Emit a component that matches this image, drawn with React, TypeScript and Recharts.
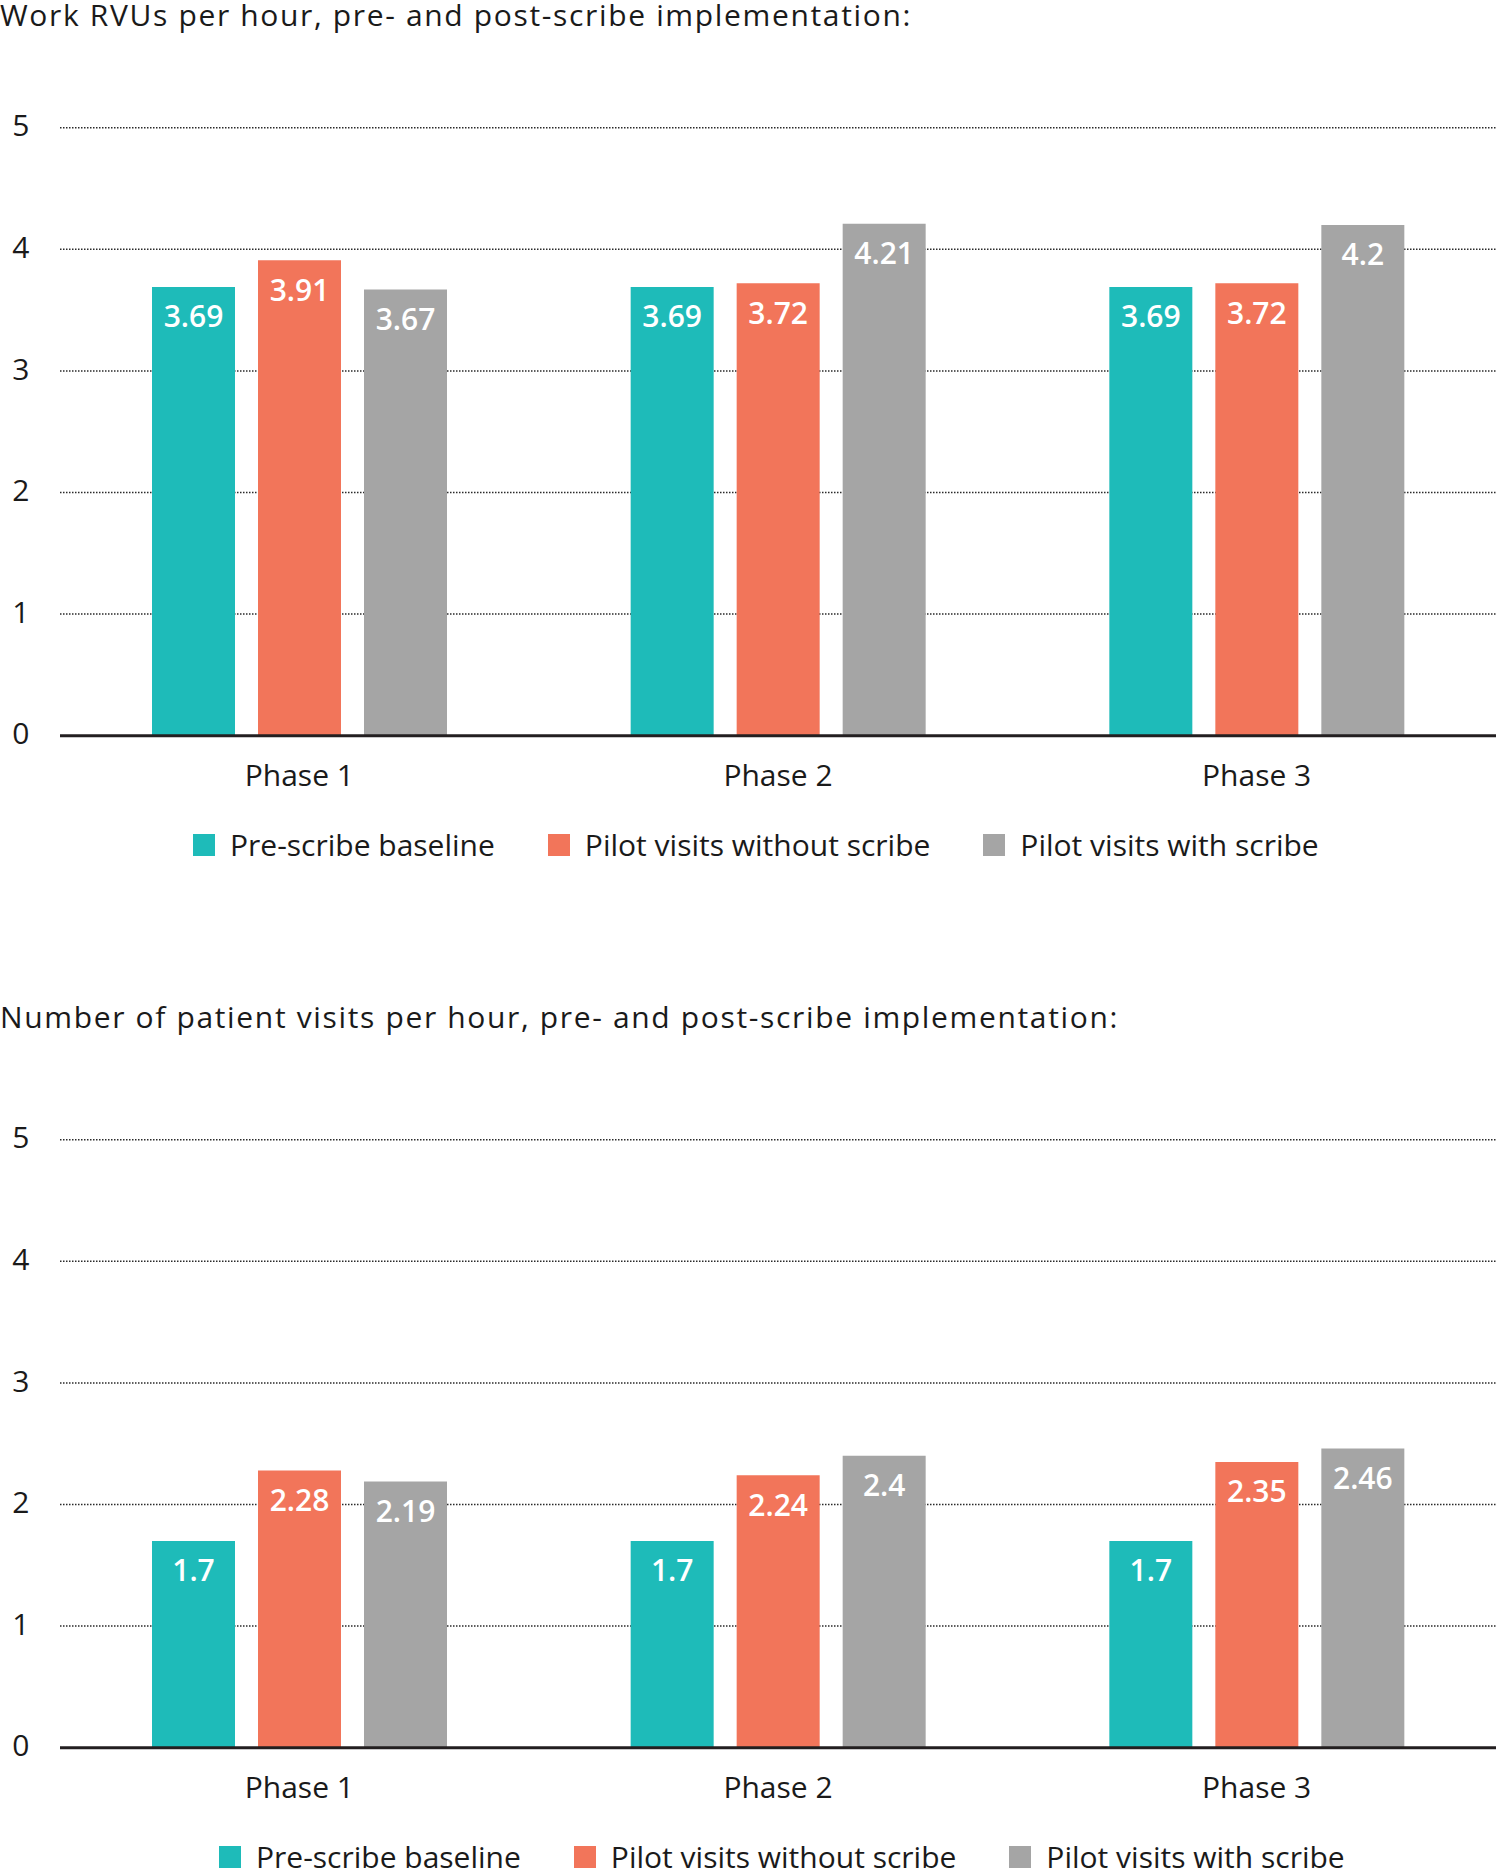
import {
  Bar,
  BarChart,
  CartesianGrid,
  LabelList,
  Legend,
  XAxis,
  YAxis,
} from "recharts";

const phases = ["Phase 1", "Phase 2", "Phase 3"];
const seriesNames = [
  "Pre-scribe baseline",
  "Pilot visits without scribe",
  "Pilot visits with scribe",
];
const seriesColors = ["#1ebbb9", "#f2755a", "#a5a5a5"];
const yTicks = [0, 1, 2, 3, 4, 5];

const rvuBaseline = [3.69, 3.69, 3.69];
const rvuWithout = [3.91, 3.72, 3.72];
const rvuWith = [3.67, 4.21, 4.2];

const visitsBaseline = [1.7, 1.7, 1.7];
const visitsWithout = [2.28, 2.24, 2.35];
const visitsWith = [2.19, 2.4, 2.46];

const FONT = "'Open Sans', 'Noto Sans', sans-serif";
const TEXT = "#1a1a1a";

function buildRows(a: number[], b: number[], c: number[]) {
  return phases.map((phase, i) => ({ phase, s0: a[i], s1: b[i], s2: c[i] }));
}

interface LegendProps {
  payload?: { value: string; color: string }[];
  padLeft: number;
}

function SquareLegend({ payload, padLeft }: LegendProps) {
  // recharts hands the items over in reverse, put them back in series order
  const items = (payload ?? [])
    .slice()
    .sort((a, b) => seriesNames.indexOf(a.value) - seriesNames.indexOf(b.value));
  return (
    <div
      style={{
        display: "flex",
        alignItems: "center",
        height: 40,
        paddingLeft: padLeft,
        boxSizing: "border-box",
      }}
    >
      {items.map((p) => (
        <div
          key={p.value}
          style={{ display: "flex", alignItems: "center", marginRight: 53 }}
        >
          <span
            style={{
              display: "inline-block",
              width: 22,
              height: 22,
              background: p.color,
              marginRight: 15,
            }}
          />
          <span
            style={{
              fontSize: 30,
              lineHeight: "40px",
              color: TEXT,
              whiteSpace: "nowrap",
            }}
          >
            {p.value}
          </span>
        </div>
      ))}
    </div>
  );
}

interface PanelProps {
  top: number;
  titleTop: number;
  title: string;
  rows: { phase: string; s0: number; s1: number; s2: number }[];
  legendLeft: number;
}

function Panel({ top, titleTop, title, rows, legendLeft }: PanelProps) {
  return (
    <div style={{ position: "absolute", left: 0, top, width: 1498, height: 880 }}>
      <div
        style={{
          position: "absolute",
          left: 0,
          top: titleTop,
          fontSize: 30,
          letterSpacing: 1.65,
          lineHeight: 1,
          color: TEXT,
          whiteSpace: "nowrap",
        }}
      >
        {title}
      </div>
      <BarChart
        width={1498}
        height={875}
        data={rows}
        margin={{ top: 127.7, right: 2, left: 0, bottom: 10 }}
        barSize={83}
        barGap={23}
      >
        <CartesianGrid
          vertical={false}
          stroke="#2a2a2a"
          strokeDasharray="1.5 1.5"
          strokeWidth={1.5}
        />
        <XAxis
          dataKey="phase"
          height={89.3}
          tickSize={0}
          tickMargin={28.5}
          axisLine={{ stroke: "#231f20", strokeWidth: 3 }}
          tickLine={false}
          tick={{ fontSize: 30, fill: TEXT }}
        />
        <YAxis
          width={60}
          domain={[0, 5]}
          ticks={yTicks}
          tickSize={0}
          tickMargin={30.5}
          axisLine={false}
          tickLine={false}
          tick={{ fontSize: 30, fill: TEXT, dy: -2 }}
        />
        <Legend
          verticalAlign="bottom"
          wrapperStyle={{ left: 0, width: 1498 }}
          content={(props: any) => (
            <SquareLegend payload={props.payload} padLeft={legendLeft} />
          )}
        />
        {["s0", "s1", "s2"].map((key, i) => (
          <Bar
            key={key}
            dataKey={key}
            name={seriesNames[i]}
            fill={seriesColors[i]}
            isAnimationActive={false}
          >
            <LabelList
              dataKey={key}
              position="insideTop"
              offset={19}
              fill="#ffffff"
              fontSize={30}
              fontWeight={600}
            />
          </Bar>
        ))}
      </BarChart>
    </div>
  );
}

export default function App() {
  return (
    <div
      style={{
        position: "absolute",
        left: 0,
        top: 0,
        width: 1498,
        height: 1871,
        overflow: "hidden",
        background: "#ffffff",
        fontFamily: FONT,
      }}
    >
      <Panel
        top={0}
        titleTop={0}
        title="Work RVUs per hour, pre- and post-scribe implementation:"
        rows={buildRows(rvuBaseline, rvuWithout, rvuWith)}
        legendLeft={193}
      />
      <Panel
        top={1012}
        titleTop={-10}
        title="Number of patient visits per hour, pre- and post-scribe implementation:"
        rows={buildRows(visitsBaseline, visitsWithout, visitsWith)}
        legendLeft={219}
      />
    </div>
  );
}
